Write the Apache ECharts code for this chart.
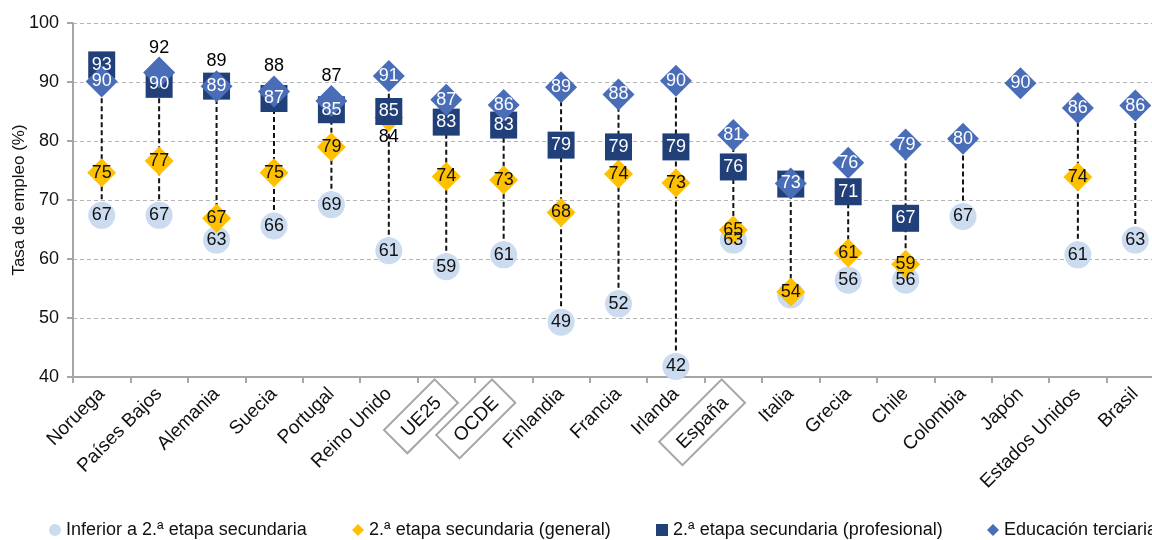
<!DOCTYPE html>
<html>
<head>
<meta charset="utf-8">
<script src="https://cdn.jsdelivr.net/npm/echarts@6/dist/echarts.min.js"></script>
<style>html,body{margin:0;padding:0;background:#fff}#c{width:1152px;height:540px}</style>
</head>
<body>
<div id="c"></div>
<script>
const categories = ['Noruega','Países Bajos','Alemania','Suecia','Portugal','Reino Unido','UE25','OCDE','Finlandia','Francia','Irlanda','España','Italia','Grecia','Chile','Colombia','Japón','Estados Unidos','Brasil'];
const inferior    = [67.4,67.4,63.2,65.6,69.2,61.4,58.7,60.7,49.3,52.4,41.8,63.2,53.9,56.4,56.4,67.2,null,60.7,63.2];
const general     = [74.6,76.6,66.9,74.6,79.0,84.0,74.0,73.4,67.9,74.4,72.9,64.9,54.4,61.0,59.1,null,null,73.9,null];
const profesional = [92.9,89.6,89.3,87.2,85.3,85.0,83.2,82.7,79.3,79.0,79.0,75.6,72.7,71.4,66.9,null,null,null,null];
const terciaria   = [90.1,91.6,89.3,88.4,86.8,91.0,87.0,86.1,89.1,87.9,90.2,81.0,72.8,76.3,79.4,80.4,89.8,85.6,86.0];
const seriesNames = ['Inferior a 2.ª etapa secundaria','2.ª etapa secundaria (general)','2.ª etapa secundaria (profesional)','Educación terciaria'];
const yTicks = [40,50,60,70,80,90,100];
const yTitle = 'Tasa de empleo (%)';
const boxed = ['UE25','OCDE','España'];

// label placement overrides (style only)
const labelAbove = {3:[1,2,3,4]};
const labelBelow = {1:[5]};
const labelHidden = {0:[12], 2:[12]};

const FONT = 'Liberation Sans, Arial, sans-serif';
const colors = ['#cbdbf0','#ffc000','#213f78','#4a6db8'];
const symbols = ['circle','diamond','rect','diamond'];
const sizes = [27,29,27,32];
const labelColors = ['#111','#111','#fff','#fff'];
const allSeries = [inferior, general, profesional, terciaria];

function buildData(si){
  return allSeries[si].map((v,i)=>{
    if(v==null) return [i,null];
    const item = {value:[i,v]};
    if((labelAbove[si]||[]).includes(i)) item.label={position:'top',distance:0,color:'#000'};
    if((labelBelow[si]||[]).includes(i)) item.label={position:'bottom',distance:-4,color:'#000'};
    if((labelHidden[si]||[]).includes(i)) item.label={show:false};
    return item;
  });
}

const rangeData = categories.map((c,i)=>{
  const vals = allSeries.map(s=>s[i]).filter(v=>v!=null);
  return [i, Math.min(...vals), Math.max(...vals)];
}).filter(d=>d[1]!==d[2]);

const chart = echarts.init(document.getElementById('c'), null, {renderer:'canvas'});
const legendX = [49, 352, 656, 987];
const option = {
  animation:false,
  textStyle:{fontFamily:FONT},
  grid:{left:73, top:23, width:1091, height:354, containLabel:false, outerBoundsMode:'none'},
  graphic:[{type:'text', x:19, y:200, rotation:Math.PI/2,
    style:{text:yTitle, fontSize:17, fontFamily:FONT, fill:'#111', align:'center', verticalAlign:'middle'}}],
  legend: seriesNames.map((n,k)=>({
    data:[n], left:legendX[k], top:521, itemWidth:12, itemHeight:12, itemGap:4,
    textStyle:{fontFamily:FONT,fontSize:18,color:'#111'}, padding:0
  })),
  xAxis:{
    type:'category', data:categories, boundaryGap:true,
    axisLine:{lineStyle:{color:'#a6a6a6',width:2}},
    axisTick:{show:true, interval:0, length:6, lineStyle:{color:'#a6a6a6',width:2}},
    axisLabel:{interval:0, rotate:45, fontSize:19, color:'#111', margin:14, fontFamily:FONT,
      formatter:v=>boxed.includes(v)?'{box|'+v+'}':v,
      rich:{box:{fontSize:19,color:'#111',fontFamily:FONT,borderColor:'#a6a6a6',borderWidth:2,padding:[8,12,6,12]}}
    },
    splitLine:{show:false}
  },
  yAxis:{
    type:'value', min:yTicks[0], max:yTicks[yTicks.length-1], interval:10,
    axisLine:{show:true,lineStyle:{color:'#a6a6a6',width:2}},
    axisTick:{show:true,length:6,lineStyle:{color:'#a6a6a6',width:2}},
    axisLabel:{fontSize:18,color:'#111',margin:14,fontFamily:FONT},
    splitLine:{show:true,lineStyle:{color:'#b5b5b5',type:[4,3],width:1}}
  },
  series:[
    {
      type:'custom', silent:true, z:1,
      renderItem:(params,api)=>{
        const lo = api.coord([api.value(0), api.value(1)]);
        const hi = api.coord([api.value(0), api.value(2)]);
        return {type:'line', shape:{x1:lo[0],y1:lo[1],x2:hi[0],y2:hi[1]},
          style:{stroke:'#111',lineWidth:2,lineDash:[5,3]}};
      },
      data:rangeData
    },
    ...seriesNames.map((n,si)=>({
      name:n, type:'scatter', z:2,
      symbol:symbols[si], symbolSize:sizes[si],
      itemStyle:{color:colors[si], opacity:1},
      label:{show:true, position:'inside', fontSize:18, color:labelColors[si], fontFamily:FONT,
        formatter:p=>Math.round(p.value[1])},
      data:buildData(si)
    }))
  ]
};
chart.setOption(option);
</script>
</body>
</html>
